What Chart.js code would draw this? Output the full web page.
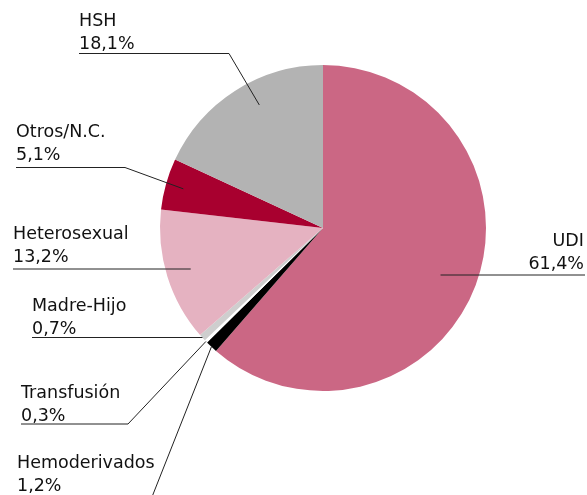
<!DOCTYPE html>
<html>
<head>
<meta charset="utf-8">
<script src="https://cdn.jsdelivr.net/npm/chart.js@4/dist/chart.umd.min.js"></script>
<style>
  html, body { margin: 0; padding: 0; background: #fff; }
  #wrap { width: 587px; height: 495px; position: relative; }
</style>
</head>
<body>
<div id="wrap"><canvas id="chart"></canvas></div>
<script>
// categorias y porcentajes (en sentido horario desde arriba)
var categories = ["UDI", "Hemoderivados", "Transfusión", "Madre-Hijo", "Heterosexual", "Otros/N.C.", "HSH"];
var values = [61.4, 1.2, 0.3, 0.7, 13.2, 5.1, 18.1];
var valueLabels = ["61,4%", "1,2%", "0,3%", "0,7%", "13,2%", "5,1%", "18,1%"];
var sliceColors = ["#cb6784", "#000000", "#ffffff", "#cecece", "#e5b2c1", "#a8002f", "#b3b3b3"];

// donde va cada etiqueta y como llega la linea a su porcion
var labelLayout = [
  { x: 584, y: 246, align: "right", lineY: 275, toRight: true, t: 0.5, frac: 0.77 },
  { x: 17, y: 468, align: "left", free: [150, 502], t: 0.5, frac: 1.0 },
  { x: 21, y: 398, align: "left", lineY: 424, elbowX: 128, t: 0.5, frac: 1.0 },
  { x: 32, y: 311, align: "left", lineY: 337.5, t: 0.5, frac: 1.0 },
  { x: 13, y: 239, align: "left", lineY: 269, t: 0.5, frac: 0.85 },
  { x: 16, y: 137, align: "left", lineY: 167.5, elbowX: 125, t: 0.5, frac: 0.89 },
  { x: 79, y: 26, align: "left", lineY: 53.5, elbowX: 229, t: 0.58, frac: 0.85 }
];

var leaderLabels = {
  id: "leaderLabels",
  afterDatasetsDraw: function (chart) {
    var ctx = chart.ctx;
    var arcs = chart.getDatasetMeta(0).data;
    ctx.save();
    ctx.font = "17.5px 'DejaVu Sans'";
    ctx.fillStyle = "#111";
    ctx.strokeStyle = "#222";
    ctx.lineWidth = 1;
    arcs.forEach(function (arc, i) {
      var lay = labelLayout[i];
      var p = arc.getProps(["x", "y", "startAngle", "endAngle", "outerRadius"], true);
      var a = p.startAngle + lay.t * (p.endAngle - p.startAngle);
      var ax = p.x + Math.cos(a) * p.outerRadius * lay.frac;
      var ay = p.y + Math.sin(a) * p.outerRadius * lay.frac;

      ctx.textAlign = lay.align;
      ctx.textBaseline = "alphabetic";
      ctx.fillText(categories[i], lay.x, lay.y);
      ctx.fillText(valueLabels[i], lay.x, lay.y + 23);

      ctx.beginPath();
      if (lay.free) {
        ctx.moveTo(ax, ay);
        ctx.lineTo(lay.free[0], lay.free[1]);
      } else if (lay.toRight) {
        ctx.moveTo(ax, lay.lineY);
        ctx.lineTo(lay.x + 1, lay.lineY);
      } else if (lay.elbowX) {
        ctx.moveTo(lay.x, lay.lineY);
        ctx.lineTo(lay.elbowX, lay.lineY);
        ctx.lineTo(ax, ay);
      } else {
        ctx.moveTo(lay.x, lay.lineY);
        ctx.lineTo(ax, lay.lineY);
      }
      ctx.stroke();
    });
    ctx.restore();
  }
};

new Chart(document.getElementById("chart"), {
  type: "pie",
  data: {
    labels: categories,
    datasets: [{
      data: values,
      backgroundColor: sliceColors,
      borderWidth: 0
    }]
  },
  options: {
    responsive: true,
    maintainAspectRatio: false,
    animation: false,
    layout: { padding: { left: 160, right: 101, top: 65, bottom: 104 } },
    plugins: {
      legend: { display: false },
      tooltip: { enabled: false }
    }
  },
  plugins: [leaderLabels]
});
</script>
</body>
</html>
